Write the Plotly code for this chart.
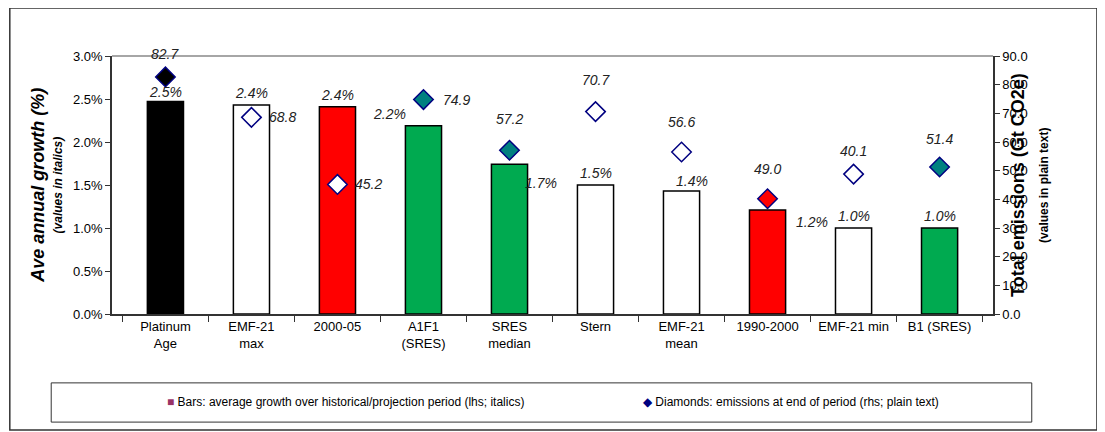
import plotly.graph_objects as go

categories = ['Platinum<br>Age', 'EMF-21<br>max', '2000-05', 'A1F1<br>(SRES)', 'SRES<br>median',
              'Stern', 'EMF-21<br>mean', '1990-2000', 'EMF-21 min', 'B1 (SRES)']
growth = [2.47, 2.43, 2.41, 2.19, 1.74, 1.50, 1.43, 1.21, 1.00, 1.00]
growth_labels = ['2.5%', '2.4%', '2.4%', '2.2%', '1.7%', '1.5%', '1.4%', '1.2%', '1.0%', '1.0%']
emissions = [82.7, 68.6, 45.2, 74.8, 57.1, 70.6, 56.5, 40.2, 48.8, 51.3]
emission_labels = ['82.7', '68.8', '45.2', '74.9', '57.2', '70.7', '56.6', '49.0', '40.1', '51.4']

bar_colors = ['#000000', '#ffffff', '#ff0000', '#00aa50', '#00aa50',
              '#ffffff', '#ffffff', '#ff0000', '#ffffff', '#00aa50']
diamond_colors = ['#000000', '#ffffff', '#ffffff', '#008080', '#008080',
                  '#ffffff', '#ffffff', '#ff0000', '#ffffff', '#008080']

# label offsets in pixels (x, y) relative to top of bar / diamond centre
bar_shift = [(0, 10), (0, 12), (0, 12), (-34, 12), (32, -19), (0, 12), (10, 10), (44, -12), (0, 12), (0, 12)]
dia_shift = [(0, 23), (31, 0), (31, 0), (33, 0), (0, 31), (0, 32), (0, 30), (0, 30), (0, 23), (0, 28)]

font = 'Liberation Sans, Arial, sans-serif'

fig = go.Figure()
fig.add_trace(go.Bar(x=categories, y=growth, marker=dict(color=bar_colors, line=dict(color='#000000', width=1.5)),
                     width=0.42, showlegend=False))
fig.add_trace(go.Scatter(x=categories, y=emissions, yaxis='y2', mode='markers', showlegend=False,
                         marker=dict(symbol='diamond', size=15, color=diamond_colors,
                                     line=dict(color='#000080', width=1.5))))

ann = []
for c, v, t, s in zip(categories, growth, growth_labels, bar_shift):
    ann.append(dict(x=c, y=v, text='<i>' + t + '</i>', showarrow=False, xshift=s[0], yshift=s[1],
                    font=dict(size=14, color='#222')))
for c, v, t, s in zip(categories, emissions, emission_labels, dia_shift):
    ann.append(dict(x=c, y=v, yref='y2', text='<i>' + t + '</i>', showarrow=False, xshift=s[0], yshift=s[1],
                    font=dict(size=14, color='#222')))
ann.append(dict(x=-0.098, y=0.5, xref='paper', yref='paper', textangle=-90, showarrow=False,
                text='<b><i>Ave annual growth (%)</i></b>', font=dict(size=18, color='#000')))
ann.append(dict(x=-0.071, y=0.5, xref='paper', yref='paper', textangle=-90, showarrow=False,
                text='<b><i>(values in italics)</i></b>', font=dict(size=12, color='#000')))
ann.append(dict(x=1.042, y=0.5, xref='paper', yref='paper', textangle=-90, showarrow=False,
                text='<b>Total emissions (Gt CO2e)</b>', font=dict(size=18, color='#000')))
ann.append(dict(x=1.068, y=0.5, xref='paper', yref='paper', textangle=-90, showarrow=False,
                text='<b>(values in plain text)</b>', font=dict(size=12, color='#000')))
ann.append(dict(x=0.06, y=-0.343, xref='paper', yref='paper', xanchor='left', yanchor='middle', showarrow=False,
                text='<span style="color:#993366">■</span> Bars: average growth over historical/projection period (lhs; italics)',
                font=dict(size=12, color='#000')))
ann.append(dict(x=0.6, y=-0.343, xref='paper', yref='paper', xanchor='left', yanchor='middle', showarrow=False,
                text='<span style="color:#000080">◆</span> Diamonds: emissions at end of period (rhs; plain text)',
                font=dict(size=12, color='#000')))

fig.update_layout(
    width=1105, height=432, margin=dict(l=104, r=120, t=48, b=126),
    paper_bgcolor='white', plot_bgcolor='white', font=dict(family=font, size=13, color='#000'),
    annotations=ann,
    xaxis=dict(type='category', showline=True, linecolor='#333', linewidth=1.5, ticks='outside', tickcolor='#333',
               tickson='boundaries', ticklen=6, tickfont=dict(size=13)),
    yaxis=dict(range=[0, 3.0], dtick=0.5, ticksuffix='%', tickformat='.1f', showgrid=False,
               showline=True, linecolor='#333', linewidth=1.5, ticks='outside', tickcolor='#333', zeroline=False),
    yaxis2=dict(range=[0, 90], dtick=10, tickformat='.1f', overlaying='y', side='right', showgrid=False,
                showline=True, linecolor='#333', linewidth=1.5, ticks='outside', tickcolor='#333', zeroline=False),
    shapes=[
        dict(type='line', xref='paper', yref='paper', x0=0, x1=1, y0=1, y1=1, line=dict(color='#888', width=1.5)),
        dict(type='rect', xref='paper', yref='paper', x0=-0.116, x1=1.118, y0=-0.45, y1=1.186,
             line=dict(color='#333', width=1.5)),
        dict(type='rect', xref='paper', yref='paper', x0=-0.069, x1=1.044, y0=-0.419, y1=-0.267,
             line=dict(color='#333', width=1)),
    ],
)

fig.write_html('out.html')
